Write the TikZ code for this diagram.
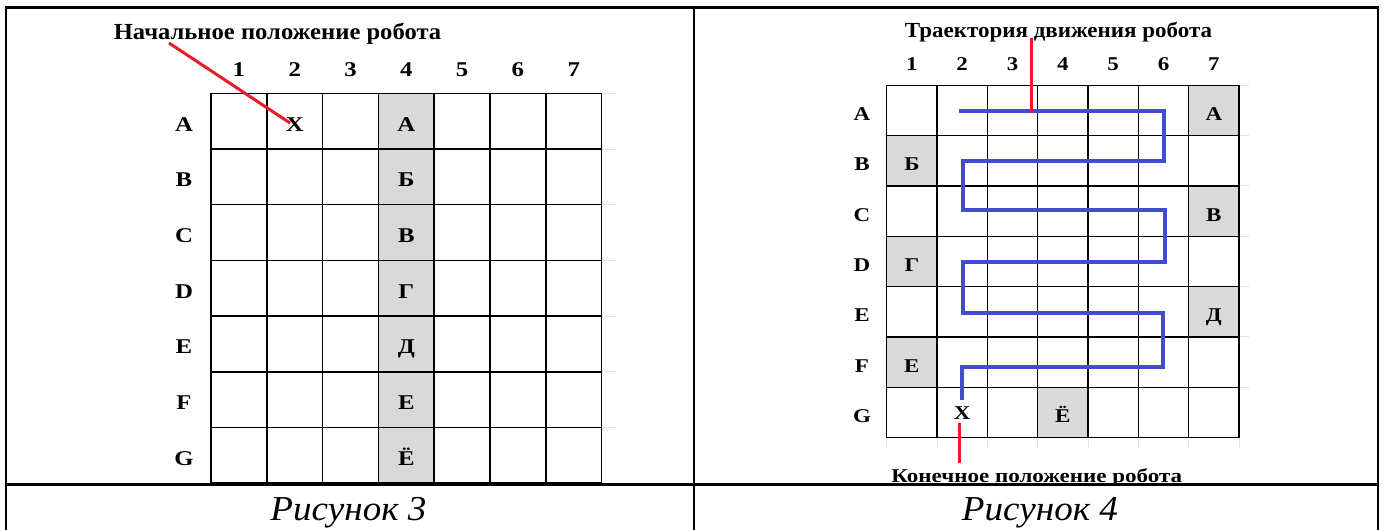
\documentclass[tikz,border=0pt]{standalone}
\usepackage{fontspec}
\setmainfont{Liberation Serif}
\newfontfamily\wideserif[FakeStretch=1.18]{Liberation Serif}
\newfontfamily\titleserif[FakeStretch=1.07]{Liberation Serif}
\newfontfamily\capserif[FakeStretch=1.06]{Liberation Serif}
\usetikzlibrary{calc}
\definecolor{cellgray}{RGB}{217,217,217}
\definecolor{pathblue}{RGB}{66,76,206}
\definecolor{ptrred}{RGB}{232,28,36}
\definecolor{stubgray}{RGB}{226,226,226}
\begin{document}
\begin{tikzpicture}[x=1pt,y=-1pt,
  frame/.style={line width=2.2pt, black},
  sepline/.style={line width=3pt, black},
  gridcell/.style={draw=black, line width=1.5pt, inner sep=0pt, anchor=center},
  lcell/.style={gridcell, minimum width=55.8pt, minimum height=55.7pt},
  rcell/.style={gridcell, minimum width=50.33pt, minimum height=50.33pt},
  lfont/.style={font=\fontsize{21}{21}\selectfont\wideserif\bfseries},
  rfont/.style={font=\fontsize{19.5}{19.5}\selectfont\wideserif\bfseries},
  ltitlefont/.style={font=\fontsize{23}{23}\selectfont\titleserif\bfseries},
  rtitlefont/.style={font=\fontsize{21.5}{21.5}\selectfont\titleserif\bfseries},
  llab/.style={lfont, inner sep=0pt, text height=14pt, text depth=0pt, anchor=center},
  rlab/.style={rfont, inner sep=0pt, text height=13pt, text depth=0pt, anchor=center},
  basetext/.style={inner sep=0pt, anchor=base},
  capfont/.style={font=\fontsize{35}{35}\selectfont\capserif\itshape},
  ptr/.style={ptrred, line width=3pt},
  robotpath/.style={pathblue, line width=3.4pt, line join=miter},
  stub/.style={stubgray, line width=1pt}
]
\useasboundingbox (0,0) rectangle (1387,530);
\fill[white] (0,0) rectangle (1387,530);

% ---------------- left panel (Рисунок 3) ----------------
\def\LX{211}\def\LY{93.3}\def\LW{55.8}\def\LH{55.7}
\foreach \k in {0,...,6}
  \draw[stub] (602,{\LY+\LH*\k}) -- (616,{\LY+\LH*\k});
\foreach \i in {0,...,6}{
  \foreach \j in {0,...,6}{
    \ifnum\j=3 \def\cf{cellgray}\else\def\cf{none}\fi
    \node[lcell, fill=\cf] (L-\i-\j) at ({\LX+\LW*(\j+0.5)},{\LY+\LH*(\i+0.5)}) {};
  }
}
\foreach \t [count=\i from 0] in {А,Б,В,Г,Д,Е,Ё}
  \node[llab] (Lt-\i) at ({\LX+\LW*3.5},{\LY+\LH*(\i+0.5)+3}) {\t};
\foreach \t [count=\i from 0] in {A,B,C,D,E,F,G}
  \node[llab] (Lr-\i) at (184,{\LY+\LH*(\i+0.5)+3}) {\t};
\foreach \j in {1,...,7}
  \node[lfont, basetext] (Lc-\j) at ({\LX+\LW*(\j-0.5)},76) {\j};
\node[llab] (LXmark) at ({\LX+\LW*1.5},{\LY+\LH*0.5+3}) {X};
\node[ltitlefont, basetext] (Ltitle) at (277.5,39.5) {Начальное положение робота};
\coordinate (Lp1) at (169,43);
\coordinate (Lp2) at (290,123);
\draw[ptr] (Lp1) -- (Lp2);

% ---------------- right panel (Рисунок 4) ----------------
\def\RX{886.7}\def\RY{85.3}\def\RW{50.33}\def\RH{50.33}
\foreach \k in {0,...,6}
  \draw[stub] (1239,{\RY+\RH*\k}) -- (1249,{\RY+\RH*\k});
\foreach \k in {0,...,7}
  \draw[stub] ({\RX+\RW*\k},438) -- ({\RX+\RW*\k},448);
\foreach \i/\j [count=\n] in {0/6,1/0,2/6,3/0,4/6,5/0,6/3}
  \node[rcell, draw=none, fill=cellgray] (Rs-\n) at ({\RX+\RW*(\j+0.5)},{\RY+\RH*(\i+0.5)}) {};
\foreach \i in {0,...,6}{
  \foreach \j in {0,...,6}{
    \node[rcell] (R-\i-\j) at ({\RX+\RW*(\j+0.5)},{\RY+\RH*(\i+0.5)}) {};
  }
}
\foreach \i/\j/\t in {0/6/А,1/0/Б,2/6/В,3/0/Г,4/6/Д,5/0/Е,6/3/Ё}
  \node[rlab] (Rt-\i) at ({\RX+\RW*(\j+0.5)},{\RY+\RH*(\i+0.5)+3.5}) {\t};
\foreach \t [count=\i from 0] in {A,B,C,D,E,F,G}
  \node[rlab] (Rr-\i) at (862,{\RY+\RH*(\i+0.5)+3.5}) {\t};
\foreach \j in {1,...,7}
  \node[rfont, basetext] (Rc-\j) at ({\RX+\RW*(\j-0.5)},70) {\j};
\node[rlab] (RXmark) at ({\RX+\RW*1.5},{\RY+\RH*6.5+1}) {X};
\node[rtitlefont, basetext] (Rtitle) at (1058.5,37.5) {Траектория движения робота};
\begin{scope}
  \clip (700,440) rectangle (1370,483.5);
  \node[rfont, basetext] (Rend) at (1036.8,482.5) {Конечное положение робота};
\end{scope}

% robot trajectory
\coordinate (Ps) at (959,111);
\coordinate (Pe) at (962,400);
\draw[robotpath] (Ps) -- (1164,111) -- (1164,161) -- (963,161) -- (963,210)
  -- (1165,210) -- (1165,262) -- (963,262) -- (963,313) -- (1163,313)
  -- (1163,367) -- (962,367) -- (Pe);
% pointers
\coordinate (Rp1) at (1031,38);
\coordinate (Rp2) at (1031,113);
\draw[ptr] (Rp1) -- (Rp2);
\coordinate (Rq1) at (959,423);
\coordinate (Rq2) at (959,463);
\draw[ptr] (Rq1) -- (Rq2);

% ---------------- frame and captions ----------------
\draw[frame] (6,531) -- (6,7.5) -- (1378,7.5) -- (1378,531);
\draw[frame] (694,7.5) -- (694,531);
\draw[sepline] (6,484.5) -- (1378,484.5);
\node[capfont, basetext] (cap3) at (348.5,520) {Рисунок 3};
\node[capfont, basetext] (cap4) at (1040,520) {Рисунок 4};
\end{tikzpicture}
\end{document}
